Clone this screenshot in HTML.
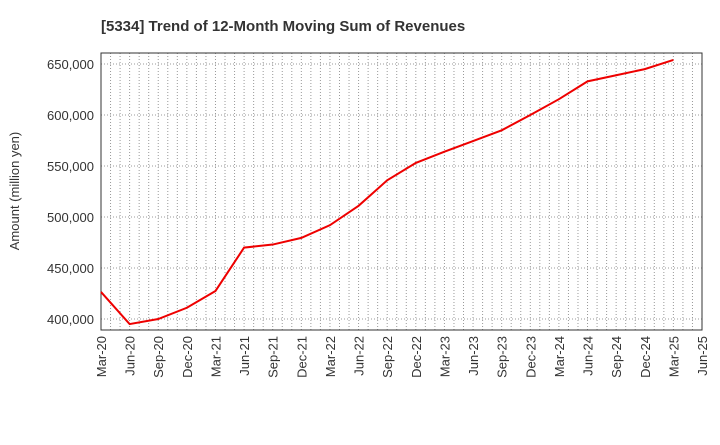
<!DOCTYPE html>
<html><head><meta charset="utf-8"><style>
body{margin:0;background:#fff;font-family:"Liberation Sans",sans-serif}
</style></head><body>
<svg id="chart" width="720" height="440" xmlns="http://www.w3.org/2000/svg" font-family="Liberation Sans, sans-serif">
<text x="101" y="31" font-size="15" font-weight="bold" fill="#333">[5334]  Trend of 12-Month Moving Sum of Revenues</text>
<text transform="translate(19,191) rotate(-90)" text-anchor="middle" font-size="13" fill="#333">Amount (million yen)</text>
<g id="grid"></g><g id="axes"></g><g id="series"></g>
</svg>
<script>
const categories=["Mar-20","Jun-20","Sep-20","Dec-20","Mar-21","Jun-21","Sep-21","Dec-21","Mar-22","Jun-22","Sep-22","Dec-22","Mar-23","Jun-23","Sep-23","Dec-23","Mar-24","Jun-24","Sep-24","Dec-24","Mar-25","Jun-25"];
const revenues=[426500,395000,400000,411000,427500,470000,473000,479500,492000,511000,536000,553000,564000,574500,585000,600000,615500,633000,639000,645000,654000];
const yTicks=[400000,450000,500000,550000,600000,650000];
const yTickLabels=["400,000","450,000","500,000","550,000","600,000","650,000"];
const L=101,R=702,T=53,B=330;
const NS="http://www.w3.org/2000/svg";
const xs=i=>L+i*(R-L)/(categories.length-1);
const ys=v=>319-(v-400000)*51/50000;
function mk(tag,attrs,parent){const e=document.createElementNS(NS,tag);for(const k in attrs)e.setAttribute(k,attrs[k]);document.getElementById(parent).appendChild(e);return e;}
const nMonths=(categories.length-1)*3;
for(let m=1;m<nMonths;m++){const x=L+m*(R-L)/nMonths;
const g=mk('line',{x1:x,x2:x,y1:T,y2:B,stroke:'#999','stroke-dasharray':'1,2','stroke-width':1},'grid');

}
yTicks.forEach((v,i)=>{const y=ys(v);
const g=mk('line',{x1:L,x2:R,y1:y,y2:y,stroke:'#999','stroke-dasharray':'1,2','stroke-width':1},'grid');


const t=mk('text',{x:L-7,y:y+5,'text-anchor':'end','font-size':13,fill:'#333'},'axes');t.textContent=yTickLabels[i];

});
categories.forEach((c,i)=>{const x=xs(i);
const t=mk('text',{transform:`translate(${x+5},${B+6}) rotate(-90)`,'text-anchor':'end','font-size':13,fill:'#333'},'axes');t.textContent=c;

});
const f=mk('rect',{x:L,y:T,width:R-L,height:B-T,fill:'none',stroke:'#333','stroke-width':1},'axes');


const p=mk('polyline',{points:revenues.map((v,i)=>xs(i)+','+ys(v)).join(' '),fill:'none',stroke:'#ee0000','stroke-width':2},'series');


</script>
</body></html>
